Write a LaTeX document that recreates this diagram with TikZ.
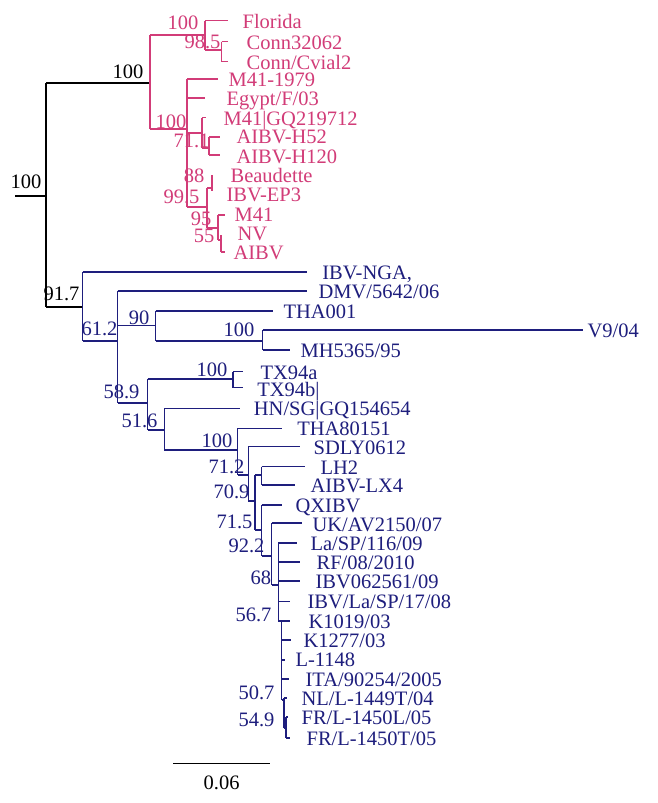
\documentclass[tikz,border=0pt]{standalone}
\usepackage{fontspec}
\setmainfont{Liberation Serif}
\definecolor{pinkc}{RGB}{210,60,120}
\definecolor{bluec}{RGB}{30,30,125}
\begin{document}
\begin{tikzpicture}[x=1pt,y=-1pt,line width=1.2pt,
  every node/.style={font=\fontsize{20.5}{22}\selectfont},
  tip/.style={anchor=base west,inner sep=0pt},
  sup/.style={anchor=base east,inner sep=0pt}]
\useasboundingbox[fill=white] (0,0) rectangle (658,803);
% ---------- coordinates: root ----------
\coordinate (r0) at (15,196);
\coordinate (r) at (46,196);
\coordinate (P) at (150,83);
\coordinate (B) at (82.7,307);
% ---------- pink clade ----------
\coordinate (P1) at (205,35);
\coordinate (tFl) at (228,20.7);
\coordinate (P11) at (221.7,50);
\coordinate (tC1) at (228,41.7);
\coordinate (tC2) at (228,61.7);
\coordinate (P2) at (187,129);
\coordinate (tM79) at (218,79);
\coordinate (tEg) at (205,98);
\coordinate (P21) at (202,133);
\coordinate (tGQ) at (206,117.7);
\coordinate (P211) at (209,148);
\coordinate (tH52) at (220,137);
\coordinate (tH120) at (220,155);
\coordinate (P22) at (207,207);
\coordinate (P22t) at (207,188);
\coordinate (P221) at (212,188);
\coordinate (tBe) at (212,175);
\coordinate (tEP) at (212,191);
\coordinate (P222) at (218,228);
\coordinate (tM41) at (225,215);
\coordinate (P2221) at (221,240);
\coordinate (tNV) at (221,235);
\coordinate (tAI) at (225,252);
% ---------- blue clade ----------
\coordinate (tNGA) at (306.7,272);
\coordinate (B1) at (117.7,341);
\coordinate (tDMV) at (306.7,291);
\coordinate (B11) at (155.7,325.7);
\coordinate (tT1) at (273,311);
\coordinate (B111) at (262.7,341);
\coordinate (tV9) at (583,330);
\coordinate (tMH) at (290,350);
\coordinate (B12) at (147.7,403);
\coordinate (B121) at (233,379);
\coordinate (tTXa) at (243,371.7);
\coordinate (tTXb) at (243,387.7);
\coordinate (B122) at (164.3,430);
\coordinate (tHN) at (240,408.3);
\coordinate (A) at (237.7,450);
\coordinate (tT8) at (281.7,428.3);
\coordinate (Bn) at (248.3,475);
\coordinate (tSD) at (300,446.7);
\coordinate (C) at (255,501);
\coordinate (D) at (261.7,475);
\coordinate (tLH) at (305,466.7);
\coordinate (tLX) at (295,485);
\coordinate (E) at (261.7,530);
\coordinate (tQX) at (281.7,505);
\coordinate (F) at (271.7,556);
\coordinate (tUK) at (301.7,523);
\coordinate (G) at (278.3,585);
\coordinate (tLa1) at (296.7,543);
\coordinate (tRF) at (300,562);
\coordinate (tIB) at (300,581);
\coordinate (tLa2) at (290,601.7);
\coordinate (H) at (281.7,621);
\coordinate (tK1) at (290,621);
\coordinate (tK2) at (291,640);
\coordinate (tL1) at (285,660);
\coordinate (tIT) at (289,679);
\coordinate (I) at (284,700);
\coordinate (tNL) at (287,698);
\coordinate (J) at (286,728);
\coordinate (tFL) at (288,717);
\coordinate (tFT) at (290,738);
\coordinate (sb1) at (173.3,763.3);
\coordinate (sb2) at (270,763.3);
% ---------- root (black) ----------
\draw (r0) -- (r);
\draw (r |- P) -- (r |- B);
\draw (r |- P) -- (P);
\draw (r |- B) -- (B);
% ---------- pink edges ----------
\begin{scope}[draw=pinkc]
\draw (P |- P1) -- (P |- P2);
\draw (P |- P1) -- (P1);
\draw (P |- P2) -- (P2);
\draw (P1 |- tFl) -- (P1 |- P11);
\draw (P1 |- tFl) -- (tFl);
\draw (P1 |- P11) -- (P11);
\draw (P11 |- tC1) -- (P11 |- tC2);
\draw (P11 |- tC1) -- (tC1);
\draw (P11 |- tC2) -- (tC2);
\draw (P2 |- tM79) -- (P2 |- P22);
\draw (P2 |- tM79) -- (tM79);
\draw (P2 |- tEg) -- (tEg);
\draw (P2 |- P21) -- (P21);
\draw (P2 |- P22) -- (P22);
\draw (P21 |- tGQ) -- (P21 |- P211);
\draw (P21 |- tGQ) -- (tGQ);
\draw (P21 |- P211) -- (P211);
\draw (P211 |- tH52) -- (P211 |- tH120);
\draw (P211 |- tH52) -- (tH52);
\draw (P211 |- tH120) -- (tH120);
\draw (P22t) -- (P22 |- P222);
\draw (P22t) -- (P221);
\draw (tBe) -- (tEP);
\draw (P22 |- P222) -- (P222);
\draw (P222 |- tM41) -- (P222 |- P2221);
\draw (P222 |- tM41) -- (tM41);
\draw (P222 |- P2221) -- (P2221);
\draw (tNV) -- (P2221 |- tAI);
\draw (P2221 |- tAI) -- (tAI);
\end{scope}
% ---------- blue edges ----------
\begin{scope}[draw=bluec]
\draw (B |- tNGA) -- (B |- B1);
\draw (B |- tNGA) -- (tNGA);
\draw (B |- B1) -- (B1);
\draw (B1 |- tDMV) -- (B1 |- B12);
\draw (B1 |- tDMV) -- (tDMV);
\draw (B1 |- B11) -- (B11);
\draw (B1 |- B12) -- (B12);
\draw (B11 |- tT1) -- (B11 |- B111);
\draw (B11 |- tT1) -- (tT1);
\draw (B11 |- B111) -- (B111);
\draw (B111 |- tV9) -- (B111 |- tMH);
\draw (B111 |- tV9) -- (tV9);
\draw (B111 |- tMH) -- (tMH);
\draw (B12 |- B121) -- (B12 |- B122);
\draw (B12 |- B121) -- (B121);
\draw (B12 |- B122) -- (B122);
\draw (B121 |- tTXa) -- (B121 |- tTXb);
\draw (B121 |- tTXa) -- (tTXa);
\draw (B121 |- tTXb) -- (tTXb);
\draw (B122 |- tHN) -- (B122 |- A);
\draw (B122 |- tHN) -- (tHN);
\draw (B122 |- A) -- (A);
\draw (A |- tT8) -- (A |- Bn);
\draw (A |- tT8) -- (tT8);
\draw (A |- Bn) -- (Bn);
\draw (Bn |- tSD) -- (Bn |- C);
\draw (Bn |- tSD) -- (tSD);
\draw (Bn |- C) -- (C);
\draw (C |- D) -- (C |- E);
\draw (C |- D) -- (D);
\draw (C |- E) -- (E);
\draw (D |- tLH) -- (D |- tLX);
\draw (D |- tLH) -- (tLH);
\draw (D |- tLX) -- (tLX);
\draw (E |- tQX) -- (E |- F);
\draw (E |- tQX) -- (tQX);
\draw (E |- F) -- (F);
\draw (F |- tUK) -- (F |- G);
\draw (F |- tUK) -- (tUK);
\draw (F |- G) -- (G);
\draw (G |- tLa1) -- (G |- H);
\draw (G |- tLa1) -- (tLa1);
\draw (G |- tRF) -- (tRF);
\draw (G |- tIB) -- (tIB);
\draw (G |- tLa2) -- (tLa2);
\draw (G |- H) -- (H);
\draw (H) -- (H |- I);
\draw (H) -- (tK1);
\draw (H |- tK2) -- (tK2);
\draw (H |- tL1) -- (tL1);
\draw (H |- tIT) -- (tIT);
\draw (H |- I) -- (I);
\draw (I |- tNL) -- (I |- J);
\draw (I |- tNL) -- (tNL);
\draw (I |- J) -- (J);
\draw (J |- tFL) -- (J |- tFT);
\draw (J |- tFL) -- (tFL);
\draw (J |- tFT) -- (tFT);
\end{scope}
% ---------- scale bar ----------
\draw (sb1) -- (sb2);
\node[anchor=base] (sbl) at (221.6,789) {0.06};
% ---------- pink tip labels ----------
\begin{scope}[every node/.append style={text=pinkc}]
\node[tip] (lFl) at (242,28) {Florida};
\node[tip] (lC1) at (246,49) {Conn32062};
\node[tip] (lC2) at (246,69) {Conn/Cvial2};
\node[tip] (lM79) at (228,86) {M41-1979};
\node[tip] (lEg) at (226,105) {Egypt/F/03};
\node[tip] (lGQ) at (223,125) {M41|GQ219712};
\node[tip] (lH52) at (236,143) {AIBV-H52};
\node[tip] (lH120) at (236,163) {AIBV-H120};
\node[tip] (lBe) at (230,182) {Beaudette};
\node[tip] (lEP) at (226,201) {IBV-EP3};
\node[tip] (lM41) at (234,221) {M41};
\node[tip] (lNV) at (237,240) {NV};
\node[tip] (lAI) at (233,259) {AIBV};
\node[sup] (s1) at (199,29) {100};
\node[sup] (s2) at (221,48) {98.5};
\node[sup] (s3) at (187,128) {100};
\node[sup] (s4) at (210,147) {71.1};
\node[sup] (s5) at (205,182) {88};
\node[sup] (s6) at (200,203) {99.5};
\node[sup] (s7) at (212,225) {95};
\node[sup] (s8) at (215,242) {55};
\end{scope}
% ---------- black support labels ----------
\node[sup] (s0) at (42,188) {100};
\node[sup] (s00) at (144,78) {100};
\node[sup] (s91) at (80,300) {91.7};
% ---------- blue tip labels ----------
\begin{scope}[every node/.append style={text=bluec}]
\node[tip] (lNGA) at (321.7,279) {IBV-NGA,};
\node[tip] (lDMV) at (318,298) {DMV/5642/06};
\node[tip] (lT1) at (283,318) {THA001};
\node[tip] (lV9) at (587,337) {V9/04};
\node[tip] (lMH) at (300,357) {MH5365/95};
\node[tip] (lTXa) at (260,379) {TX94a};
\node[tip] (lTXb) at (256.7,396) {TX94b|};
\node[tip] (lHN) at (253.3,415) {HN/SG|GQ154654};
\node[tip] (lT8) at (296.7,435) {THA80151};
\node[tip] (lSD) at (313,454) {SDLY0612};
\node[tip] (lLH) at (320,474) {LH2};
\node[tip] (lLX) at (310,492) {AIBV-LX4};
\node[tip] (lQX) at (295,512) {QXIBV};
\node[tip] (lUK) at (312,531) {UK/AV2150/07};
\node[tip] (lLa1) at (310,550) {La/SP/116/09};
\node[tip] (lRF) at (316,569) {RF/08/2010};
\node[tip] (lIB) at (315,588) {IBV062561/09};
\node[tip] (lLa2) at (307,608) {IBV/La/SP/17/08};
\node[tip] (lK1) at (308,628) {K1019/03};
\node[tip] (lK2) at (303,647) {K1277/03};
\node[tip] (lL1) at (295,666) {L-1148};
\node[tip] (lIT) at (305,686) {ITA/90254/2005};
\node[tip] (lNL) at (301,705) {NL/L-1449T/04};
\node[tip] (lFL) at (301,724) {FR/L-1450L/05};
\node[tip] (lFT) at (306,745) {FR/L-1450T/05};
\node[sup] (b1) at (118,335) {61.2};
\node[sup] (b2) at (150,324) {90};
\node[sup] (b3) at (255,336) {100};
\node[sup] (b4) at (140,398) {58.9};
\node[sup] (b5) at (228,376) {100};
\node[sup] (b6) at (158,427) {51.6};
\node[sup] (b7) at (233,447) {100};
\node[sup] (b8) at (245,473) {71.2};
\node[sup] (b9) at (250,498) {70.9};
\node[sup] (b10) at (253,528) {71.5};
\node[sup] (b11) at (265,552) {92.2};
\node[sup] (b12) at (271.7,584) {68};
\node[sup] (b13) at (272,621) {56.7};
\node[sup] (b14) at (275,699) {50.7};
\node[sup] (b15) at (275,726) {54.9};
\end{scope}
\end{tikzpicture}
\end{document}
